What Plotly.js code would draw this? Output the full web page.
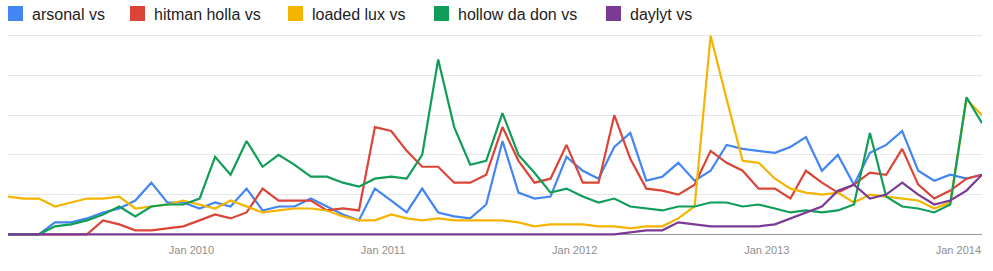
<!DOCTYPE html>
<html>
<head>
<meta charset="utf-8">
<script src="https://cdn.plot.ly/plotly-3.0.1.min.js"></script>
<style>
  html, body { margin: 0; padding: 0; background: #fff; }
  #chart { width: 993px; height: 271px; }
</style>
</head>
<body>
<div id="chart"></div>
<script>
// ---- data ----
const months = [
  '2009-01','2009-02','2009-03','2009-04','2009-05','2009-06','2009-07','2009-08','2009-09','2009-10','2009-11','2009-12',
  '2010-01','2010-02','2010-03','2010-04','2010-05','2010-06','2010-07','2010-08','2010-09','2010-10','2010-11','2010-12',
  '2011-01','2011-02','2011-03','2011-04','2011-05','2011-06','2011-07','2011-08','2011-09','2011-10','2011-11','2011-12',
  '2012-01','2012-02','2012-03','2012-04','2012-05','2012-06','2012-07','2012-08','2012-09','2012-10','2012-11','2012-12',
  '2013-01','2013-02','2013-03','2013-04','2013-05','2013-06','2013-07','2013-08','2013-09','2013-10','2013-11','2013-12',
  '2014-01','2014-02'
];
const seriesNames = ['arsonal vs', 'hitman holla vs', 'loaded lux vs', 'hollow da don vs', 'daylyt vs'];

const arsonal = [0,0,0,6,6,8,11,13,17,26,16,16,13,16,14,23,12,14,14,18,14,
  10,7,23,17,11,23,11,9,8,15,47,21,18,19,39,32,28,44,51,27,29,
  36,27,32,45,43,42,41,44,49,32,40,25,41,45,52,32,27,30,28,30];
const hitmanHolla = [0,0,0,0,0,0,7,5,2,2,3,4,7,10,8,11,23,17,17,17,12,
  13,12,54,52,42,34,34,26,26,30,54,37,26,28,45,26,26,60,38,23,22,
  20,25,42,36,32,23,23,18,32,26,21,25,31,30,43,25,18,22,28,30];
const loadedLux = [19,18,18,14,16,18,18,19,13,14,15,17,15,13,17,14,11,12,13,13,12,
  9,7,7,10,8,7,8,7,7,7,7,6,4,5,5,5,4,4,3,4,4,
  8,14,100,68,37,36,28,23,21,20,21,16,20,19,18,17,13,16,68,60];
const hollowDaDon = [0,0,0,4,5,7,10,14,9,14,15,15,18,39,30,47,34,40,35,29,29,
  26,24,28,29,28,40,88,54,35,37,61,40,31,21,23,19,16,18,14,13,12,
  14,14,16,16,14,15,13,11,12,11,12,15,51,19,14,13,11,15,69,56];
const daylyt = [0,0,0,0,0,0,0,0,0,0,0,0,0,0,0,0,0,0,0,0,0,
  0,0,0,0,0,0,0,0,0,0,0,0,0,0,0,0,0,
  0,1,2,2,6,5,4,4,4,4,5,8,11,14,22,25,18,20,26,20,15,17,22,30];

const colors = ['#4285f4', '#db4437', '#f4b400', '#0f9d58', '#7b3a96'];
const allSeries = [arsonal, hitmanHolla, loadedLux, hollowDaDon, daylyt];

// ---- geometry ----
const W = 993, H = 271;
const M = { l: 8, r: 11, t: 34, b: 35 };
const plotW = W - M.l - M.r, plotH = H - M.t - M.b;
const px2x = px => (px - M.l) / plotW;
const px2y = py => (H - M.b - py) / plotH;

const traces = allSeries.map((vals, k) => ({
  type: 'scatter',
  mode: 'lines',
  x: months,
  y: vals,
  xperiod: 'M1',
  xperiodalignment: 'middle',
  name: seriesNames[k],
  line: { color: colors[k], width: 2.2, shape: 'linear' },
  hoverinfo: 'x+y+name',
  showlegend: false
}));

// custom legend: square swatches + labels
const legendX = [8, 130, 288, 434, 606];
const shapes = [];
const annotations = [];
seriesNames.forEach((nm, k) => {
  shapes.push({
    type: 'rect', xref: 'paper', yref: 'paper',
    x0: px2x(legendX[k]), x1: px2x(legendX[k] + 15),
    y0: px2y(21), y1: px2y(6),
    fillcolor: colors[k], line: { width: 0 }
  });
  annotations.push({
    xref: 'paper', yref: 'paper',
    x: px2x(legendX[k] + 22), y: px2y(14.5),
    xanchor: 'left', yanchor: 'middle',
    text: nm, showarrow: false,
    font: { family: 'Arial, Liberation Sans, sans-serif', size: 16, color: '#222' }
  });
});

const layout = {
  width: W, height: H,
  margin: M,
  paper_bgcolor: '#fff', plot_bgcolor: '#fff',
  showlegend: false,
  xaxis: {
    type: 'date',
    range: ['2009-01-16 12:00', '2014-02-15'],
    tickformat: '%b %Y',
    dtick: 'M12',
    tick0: '2010-01-01',
    showgrid: false, zeroline: false, showline: false,
    ticks: '',
    ticklabelstandoff: 6,
    tickfont: { family: 'Arial, Liberation Sans, sans-serif', size: 11, color: '#8f8f8f' },
    fixedrange: true
  },
  yaxis: {
    range: [-0.86, 100.86],
    dtick: 20, tick0: 0,
    showticklabels: false,
    showgrid: true, gridcolor: '#e6e6e6', gridwidth: 1,
    zeroline: true, zerolinecolor: '#9a9a9a', zerolinewidth: 1,
    showline: false, ticks: '',
    fixedrange: true
  },
  shapes: shapes,
  annotations: annotations
};

Plotly.newPlot('chart', traces, layout, { staticPlot: true, displayModeBar: false });
</script>
</body>
</html>
